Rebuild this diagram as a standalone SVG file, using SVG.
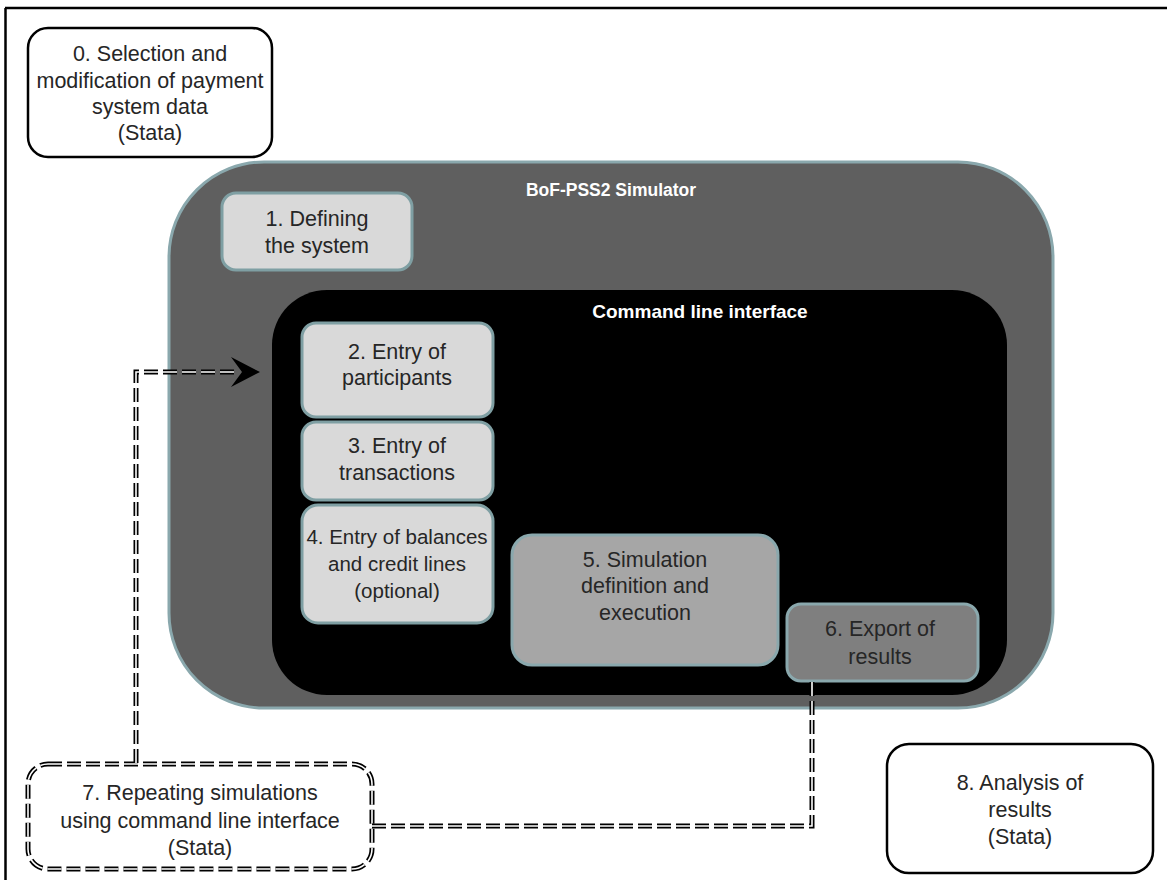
<svg xmlns="http://www.w3.org/2000/svg" width="1167" height="880" viewBox="0 0 1167 880">
<style>
text{font-family:"Liberation Sans",Arial,sans-serif;font-size:21.5px;fill:#262626;text-anchor:middle}
.t{fill:#ffffff;font-weight:bold;font-size:17.5px}
.out{fill:#ffffff;stroke:#000;stroke-width:2.5}
.lt{fill:#d9d9d9;stroke:#7f9fa3;stroke-width:3}
.dbl-o{fill:none;stroke:#000;stroke-width:5;stroke-dasharray:14 5}
.dbl-i{fill:none;stroke:#fff;stroke-width:1.6;stroke-dasharray:14 5}
</style>
<rect x="0" y="0" width="1167" height="880" fill="#fff"/>
<g id="frame">
<line x1="5" y1="8" x2="1167" y2="8" stroke="#000" stroke-width="2.5"/>
<line x1="5.5" y1="8" x2="5.5" y2="880" stroke="#000" stroke-width="2.5"/>
</g>
<g id="node0">
<rect class="out" x="28" y="28" width="244" height="129" rx="20"/>
<text x="150" y="61">0. Selection and</text>
<text x="150" y="88">modification of payment</text>
<text x="150" y="114">system data</text>
<text x="150" y="140">(Stata)</text>
</g>
<g id="simulator">
<rect x="169" y="162" width="884" height="546" rx="95" fill="#5f5f5f" stroke="#8aa8ad" stroke-width="3"/>
<text class="t" x="611" y="196">BoF-PSS2 Simulator</text>
</g>
<g id="node1">
<rect class="lt" x="222" y="193" width="190" height="77" rx="14"/>
<text x="317" y="226">1. Defining</text>
<text x="317" y="253">the system</text>
</g>
<g id="cli">
<rect x="272" y="290" width="735" height="405" rx="55" fill="#000"/>
<text class="t" x="700" y="318" style="font-size:19px">Command line interface</text>
</g>
<g id="node2">
<rect class="lt" x="302" y="323" width="191" height="94" rx="14"/>
<text x="397" y="359">2. Entry of</text>
<text x="397" y="385">participants</text>
</g>
<g id="node3">
<rect class="lt" x="302" y="422" width="191" height="78" rx="14"/>
<text x="397" y="453">3. Entry  of</text>
<text x="397" y="480">transactions</text>
</g>
<g id="node4">
<rect class="lt" x="302" y="505" width="191" height="118" rx="16"/>
<text x="397" y="544" style="font-size:20.5px">4. Entry of balances</text>
<text x="397" y="571" style="font-size:20.5px">and credit lines</text>
<text x="397" y="598" style="font-size:20.5px">(optional)</text>
</g>
<g id="node5">
<rect x="512" y="535" width="266" height="130" rx="20" fill="#a6a6a6" stroke="#8aa8ad" stroke-width="3"/>
<text x="645" y="567">5. Simulation</text>
<text x="645" y="593">definition and</text>
<text x="645" y="620">execution</text>
</g>
<g id="node6">
<rect x="787" y="604" width="191" height="77" rx="14" fill="#7f7f7f" stroke="#8aa8ad" stroke-width="3"/>
<text x="880" y="636">6. Export of</text>
<text x="880" y="664">results</text>
</g>
<g id="node7">
<rect class="dbl-o" x="28" y="764" width="344" height="105" rx="20"/>
<rect class="dbl-i" x="28" y="764" width="344" height="105" rx="20"/>
<text x="200" y="800">7. Repeating simulations</text>
<text x="200" y="828">using command line interface</text>
<text x="200" y="855">(Stata)</text>
</g>
<g id="node8">
<rect class="out" x="887" y="744" width="266" height="129" rx="22"/>
<text x="1020" y="790">8. Analysis of</text>
<text x="1020" y="817">results</text>
<text x="1020" y="844">(Stata)</text>
</g>
<g id="connectors">
<path class="dbl-o" d="M136,763 V372 H236"/>
<path class="dbl-i" d="M136,763 V372 H236"/>
<polygon points="260,372 231,357 242,372 231,387" fill="#000"/>
<path class="dbl-o" d="M372,826 H812 V682"/>
<path class="dbl-i" d="M372,826 H812 V682"/>
</g>
</svg>
